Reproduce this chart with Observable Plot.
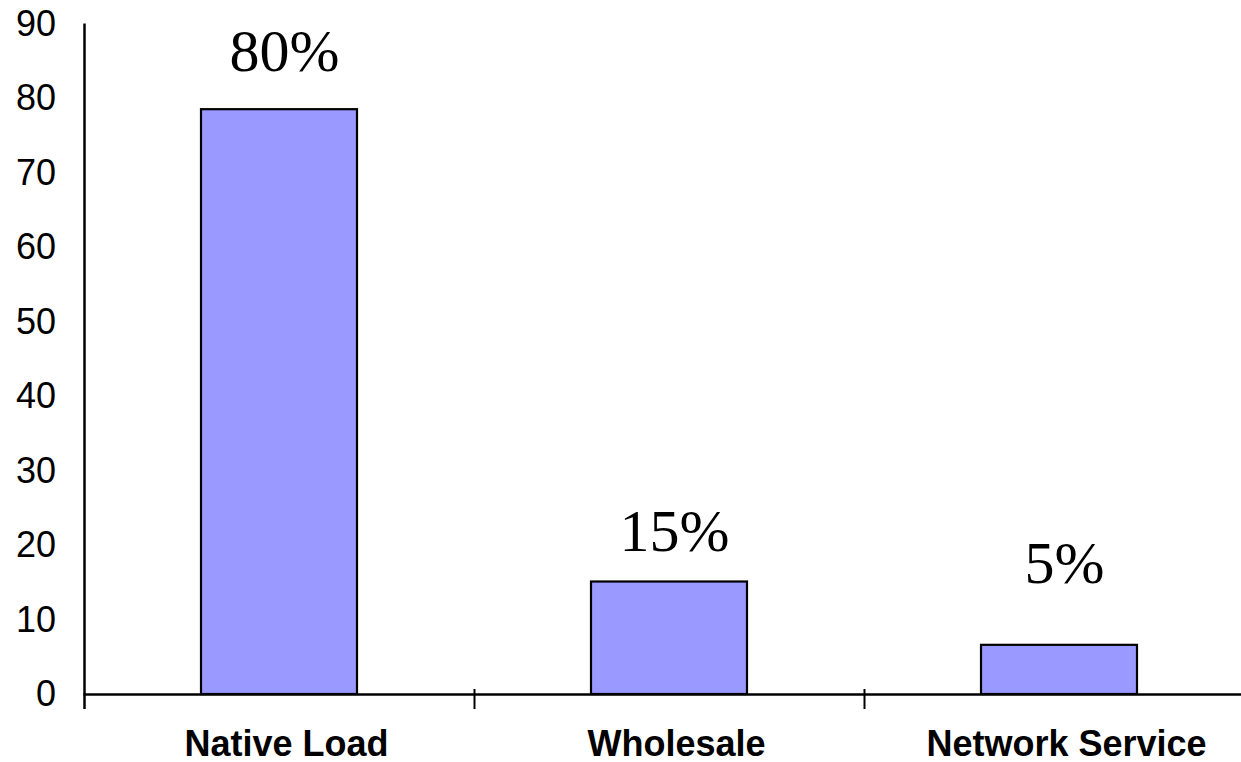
<!DOCTYPE html>
<html>
<head>
<meta charset="utf-8">
<script src="https://cdn.jsdelivr.net/npm/d3@7"></script>
<script src="https://cdn.jsdelivr.net/npm/@observablehq/plot@0.6"></script>
<style>
  html, body { margin: 0; padding: 0; background: #fff; overflow: hidden; }
  #chart svg { display: block; }
</style>
</head>
<body>
<div id="chart"></div>
<script>
const categories = ["Native Load", "Wholesale", "Network Service"];
const values = [78.5, 15.1, 6.6];
const valueLabels = ["80%", "15%", "5%"];
const labelLevels = [83.7, 19.3, 15.0];
const yTicks = [0, 10, 20, 30, 40, 50, 60, 70, 80, 90];

const data = categories.map((c, i) => ({
  category: c, value: values[i], label: valueLabels[i], level: labelLevels[i]
}));

const W = 1241, H = 762;
const marginLeft = 83.5, marginRight = -12.5, marginTop = 23.5, marginBottom = 68;
const paddingInner = 0.6, paddingOuter = 0.3;
const step = (W - marginLeft - marginRight) / (categories.length - paddingInner + 2 * paddingOuter);
const edgeOffset = -(step * paddingInner) / 2 - step * (1 - paddingInner) / 2;

const chart = Plot.plot({
  width: W,
  height: H,
  marginLeft, marginRight, marginTop, marginBottom,
  style: {background: "#fff", overflow: "visible"},
  x: {domain: categories, paddingInner, paddingOuter, label: null},
  y: {domain: [0, 90], label: null},
  marks: [
    Plot.barY(data, {x: "category", y: "value", fill: "#9999ff", stroke: "#000", strokeWidth: 2.2}),
    Plot.ruleY([0], {stroke: "#000", strokeWidth: 2.5}),
    // y axis line (left edge of first band)
    Plot.ruleX([categories[0]], {dx: edgeOffset, stroke: "#000", strokeWidth: 2.5, insetBottom: -15}),
    // separators between categories
    Plot.ruleX(categories.slice(1), {dx: edgeOffset, y1: 0, y2: 0, insetTop: 15, insetBottom: 5, stroke: "#000", strokeWidth: 2}),
    Plot.axisY({ticks: yTicks, tickSize: 0, tickPadding: 28, tickFormat: d => d,
      fontSize: 36, fontFamily: "Liberation Sans, Arial, sans-serif", fill: "#000", label: null}),
    Plot.axisX({tickSize: 0, tickPadding: 36, dx: 7, fontSize: 36, fontWeight: "bold",
      fontFamily: "Liberation Sans, Arial, sans-serif", fill: "#000", label: null}),
    Plot.text(data, {x: "category", y: "level", text: "label", lineAnchor: "bottom", dx: 5,
      fontSize: 60, fontFamily: "Liberation Serif, Times New Roman, serif", fill: "#000"})
  ]
});
document.getElementById("chart").appendChild(chart);
</script>
</body>
</html>
